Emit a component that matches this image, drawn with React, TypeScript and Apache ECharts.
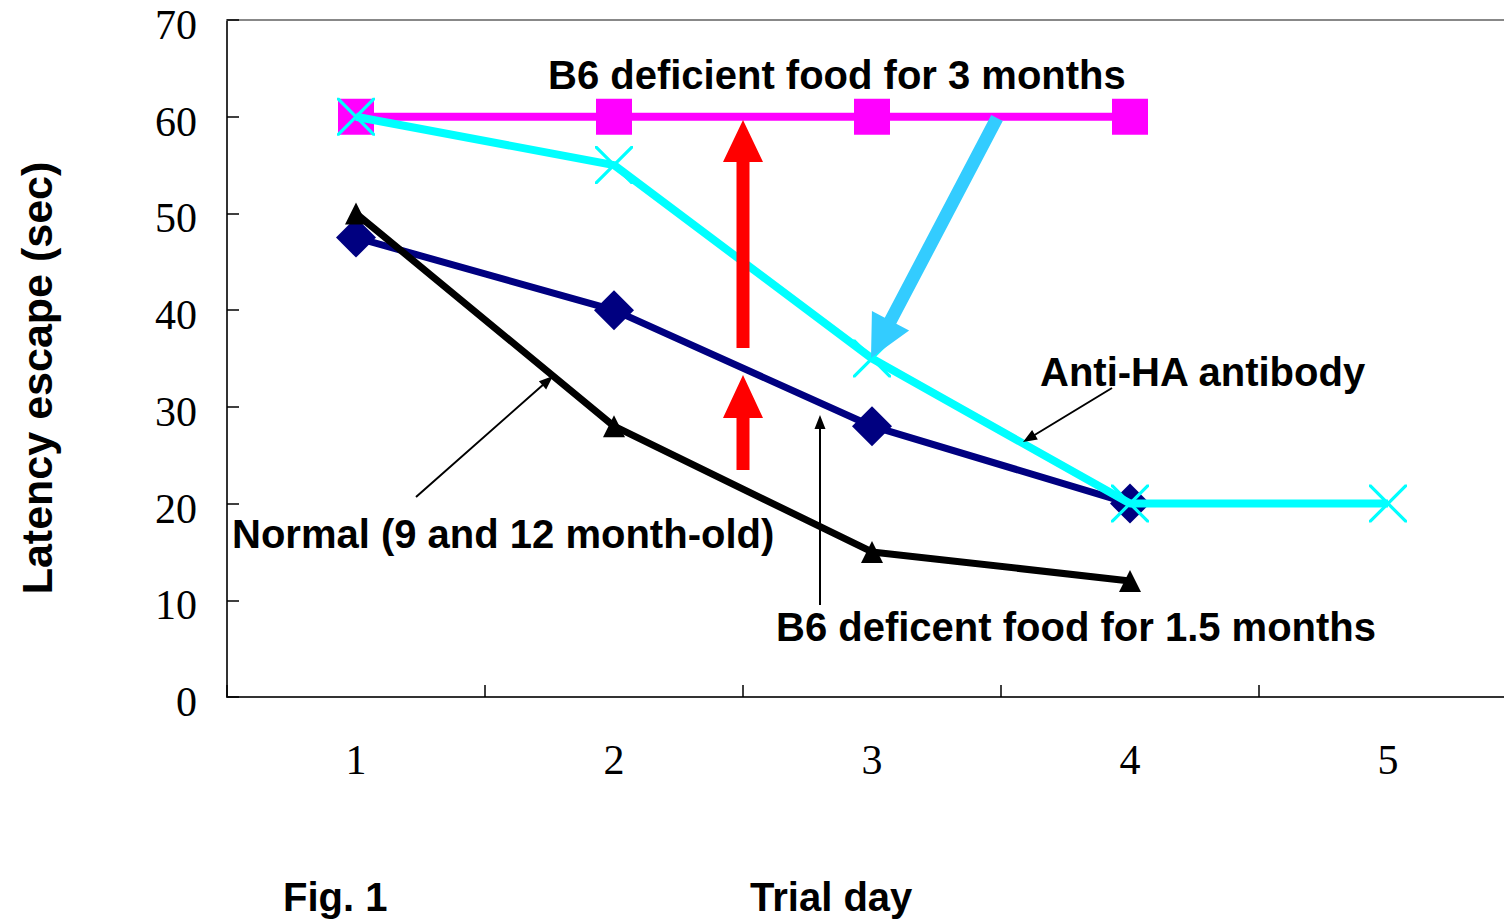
import React, { useEffect, useRef } from "react";
import * as echarts from "echarts";

const trialDays = ["1", "2", "3", "4", "5"];
const yTicks = { min: 0, max: 70, interval: 10 };
const deficient3m = [60, 60, 60, 60];
const antiHA = [60, 55, 35, 20, 20];
const deficient15m = [47.5, 40, 28, 20];
const normal = [50, 28, 15, 12];

const labelTexts = {
  b6three: "B6 deficient food for 3 months",
  antiHA: "Anti-HA antibody",
  normal: "Normal (9 and 12 month-old)",
  b6half: "B6 deficent food for 1.5 months",
  fig: "Fig. 1",
  xName: "Trial day",
  yName: "Latency escape (sec)",
};

const X_PATH =
  "path://M0,0 L0.6,0 L10,9.4 L10,10 L9.4,10 L0,0.6 Z M9.4,0 L10,0 L10,0.6 L0.6,10 L0,10 L0,9.4 Z";

function arrow(
  tail: number[],
  tip: number[],
  shaftW: number,
  headL: number,
  headW: number,
  color: string
) {
  const dx = tip[0] - tail[0];
  const dy = tip[1] - tail[1];
  const len = Math.sqrt(dx * dx + dy * dy);
  const ux = dx / len;
  const uy = dy / len;
  const nx = -uy;
  const ny = ux;
  const bx = tip[0] - ux * headL;
  const by = tip[1] - uy * headL;
  const s = shaftW / 2;
  const h = headW / 2;
  const points = [
    [tail[0] + nx * s, tail[1] + ny * s],
    [bx + nx * s, by + ny * s],
    [bx + nx * h, by + ny * h],
    [tip[0], tip[1]],
    [bx - nx * h, by - ny * h],
    [bx - nx * s, by - ny * s],
    [tail[0] - nx * s, tail[1] - ny * s],
  ];
  return {
    type: "polygon",
    z: 100,
    shape: { points },
    style: { fill: color, stroke: null },
  };
}

const boldFont = "Liberation Sans";

function label(text: string, x: number, y: number, size = 40) {
  return {
    type: "text",
    z: 100,
    x,
    y,
    style: {
      text,
      fill: "#000",
      font: `bold ${size}px "${boldFont}", Arial, sans-serif`,
      textAlign: "left",
      textVerticalAlign: "middle",
    },
  };
}

export default function App() {
  const ref = useRef<HTMLDivElement>(null);
  useEffect(() => {
    document.body.style.margin = "0";
    document.body.style.overflow = "hidden";
    const chart = echarts.init(ref.current!, null, { renderer: "svg" });
    const serifFont = "Liberation Serif";
    chart.setOption({
      animation: false,
      backgroundColor: "#fff",
      grid: { left: 227, top: 20, right: 0, bottom: 227 },
      xAxis: [
        {
          type: "category",
          data: trialDays,
          boundaryGap: true,
          axisLine: { show: true, lineStyle: { color: "#333", width: 2 } },
          axisTick: { show: true, inside: true, length: 12, lineStyle: { color: "#000", width: 1.5 } },
          axisLabel: {
            margin: 42,
            color: "#000",
            fontFamily: serifFont,
            fontSize: 42,
          },
          splitLine: { show: false },
        },
        {
          type: "category",
          data: trialDays,
          position: "top",
          axisLine: { show: true, lineStyle: { color: "#888", width: 2 } },
          axisTick: { show: false },
          axisLabel: { show: false },
          splitLine: { show: false },
        },
      ],
      yAxis: {
        type: "value",
        min: yTicks.min,
        max: yTicks.max,
        interval: yTicks.interval,
        axisLine: { show: true, lineStyle: { color: "#333", width: 2 } },
        axisTick: { show: true, inside: true, length: 12, lineStyle: { color: "#000", width: 1.5 } },
        axisLabel: {
          margin: 30,
          color: "#000",
          fontFamily: serifFont,
          fontSize: 42,
          verticalAlign: "top",
          lineHeight: 10,
        },
        splitLine: { show: false },
      },
      series: [
        {
          type: "line",
          name: "B6 1.5 months",
          data: deficient15m,
          symbol: "diamond",
          symbolSize: 40,
          z: 2,
          lineStyle: { color: "#000080", width: 7 },
          itemStyle: { color: "#000080" },
        },
        {
          type: "line",
          name: "Normal",
          data: normal,
          symbol: "triangle",
          symbolSize: [22, 22],
          z: 3,
          lineStyle: { color: "#000", width: 7 },
          itemStyle: { color: "#000" },
        },
        {
          type: "line",
          name: "B6 3 months",
          data: deficient3m,
          symbol: "rect",
          symbolSize: 36,
          z: 4,
          lineStyle: { color: "#FF00FF", width: 8 },
          itemStyle: { color: "#FF00FF" },
        },
        {
          type: "line",
          name: "Anti-HA",
          data: antiHA,
          symbol: X_PATH,
          symbolSize: 38,
          symbolKeepAspect: true,
          z: 5,
          lineStyle: { color: "#00FFFF", width: 8 },
          itemStyle: { color: "#00FFFF" },
        },
      ],
      graphic: [
        arrow([743, 348], [743, 120], 13, 42, 40, "#FF0000"),
        arrow([743, 470], [743, 375], 13, 43, 40, "#FF0000"),
        arrow([997, 118], [871, 358], 13, 42, 42, "#33CCFF"),
        arrow([416, 497], [553, 376], 2, 14, 11, "#000"),
        arrow([820, 605], [820, 415], 2, 14, 11, "#000"),
        arrow([1112, 388], [1023, 442], 2, 14, 11, "#000"),
        label(labelTexts.b6three, 548, 75),
        label(labelTexts.antiHA, 1040, 372),
        label(labelTexts.normal, 232, 534),
        label(labelTexts.b6half, 776, 627),
        label(labelTexts.fig, 283, 897),
        label(labelTexts.xName, 750, 897),
        {
          type: "text",
          z: 100,
          x: 37,
          y: 378,
          rotation: Math.PI / 2,
          style: {
            text: labelTexts.yName,
            fill: "#000",
            font: `bold 43px "${boldFont}", Arial, sans-serif`,
            textAlign: "center",
            textVerticalAlign: "middle",
          },
        },
      ],
    });
    return () => chart.dispose();
  }, []);
  return <div ref={ref} style={{ width: 1517, height: 924 }} />;
}
